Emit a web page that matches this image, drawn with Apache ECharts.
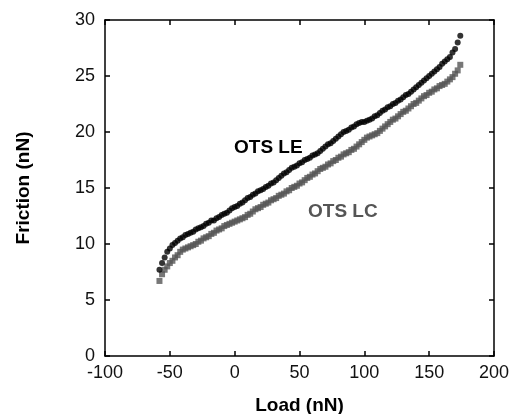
<!DOCTYPE html>
<html>
<head>
<meta charset="utf-8">
<script src="https://cdn.jsdelivr.net/npm/echarts@6/dist/echarts.min.js"></script>
<style>
  html, body { margin: 0; padding: 0; background: #fff; }
  #chart { width: 510px; height: 414px; }
</style>
</head>
<body>
<div id="chart"></div>
<script>
// load values (nN), shared by both curves
var load = [-58,-56,-54,-52,-50,-48,-46,-44,-42,-40,-38,-36,-34,-32,-30,-28,-26,-24,-22,-20,
  -18,-16,-14,-12,-10,-8,-6,-4,-2,0,2,4,6,8,10,12,14,16,18,20,22,24,26,28,30,32,34,36,38,40,
  42,44,46,48,50,52,54,56,58,60,62,64,66,68,70,72,74,76,78,80,82,84,86,88,90,92,94,96,98,100,
  102,104,106,108,110,112,114,116,118,120,122,124,126,128,130,132,134,136,138,140,142,144,146,148,150,
  152,154,156,158,160,162,164,166,168,170,172,174];

// OTS LE friction (nN)
var frictionLE = [7.7,8.3,8.8,9.3,9.6,9.9,10.1,10.3,10.5,10.6,10.8,10.9,11.0,11.1,11.3,11.4,11.5,11.6,11.8,11.9,
  12.1,12.1,12.3,12.4,12.6,12.7,12.8,13.0,13.2,13.3,13.4,13.6,13.7,13.9,14.1,14.2,14.4,14.5,14.7,14.8,
  14.9,15.1,15.2,15.4,15.5,15.7,15.9,16.1,16.3,16.4,16.6,16.8,16.9,17.0,17.2,17.3,17.5,17.6,17.7,17.9,
  18.0,18.1,18.3,18.5,18.7,18.9,19.0,19.2,19.4,19.6,19.8,20.0,20.1,20.2,20.4,20.5,20.7,20.8,20.9,20.9,
  21.0,21.1,21.2,21.4,21.5,21.7,21.9,22.0,22.2,22.3,22.5,22.6,22.8,22.9,23.1,23.3,23.4,23.6,23.8,24.0,
  24.2,24.4,24.6,24.8,25.0,25.2,25.4,25.6,25.8,26.1,26.3,26.5,26.7,27.1,27.4,28.0,28.6];

// OTS LC friction (nN)
var frictionLC = [6.7,7.3,7.7,8.0,8.3,8.5,8.8,9.0,9.3,9.5,9.6,9.7,9.8,9.9,10.0,10.2,10.3,10.5,10.6,10.7,
  10.9,11.0,11.2,11.3,11.4,11.6,11.7,11.8,11.9,12.0,12.1,12.2,12.3,12.4,12.6,12.7,12.9,13.1,13.2,13.3,
  13.5,13.6,13.7,13.9,14.0,14.1,14.3,14.4,14.5,14.7,14.8,15.0,15.1,15.2,15.4,15.5,15.7,15.9,16.0,16.2,
  16.3,16.5,16.7,16.8,16.9,17.1,17.2,17.4,17.5,17.7,17.8,18.0,18.1,18.2,18.4,18.5,18.7,18.9,19.1,19.3,
  19.5,19.6,19.7,19.8,19.9,20.1,20.3,20.5,20.7,20.9,21.1,21.2,21.4,21.6,21.8,21.9,22.1,22.3,22.5,22.6,
  22.8,23.0,23.2,23.3,23.5,23.6,23.8,23.9,24.1,24.2,24.3,24.5,24.7,24.9,25.2,25.5,26.0];

function pairs(xs, ys) {
  var res = [];
  for (var i = 0; i < xs.length; i++) res.push([xs[i], ys[i]]);
  return res;
}

var font = '"Liberation Sans", Arial, sans-serif';
var chart = echarts.init(document.getElementById('chart'));

var axisCommon = {
  axisLine: { show: true, onZero: false, lineStyle: { color: '#000', width: 1.5 } },
  axisTick: { show: true, inside: true, length: 5, lineStyle: { color: '#000', width: 1.5 } },
  splitLine: { show: false }
};

var option = {
  backgroundColor: '#fff',
  animation: false,
  grid: { left: 105, right: 16, top: 20, bottom: 58, outerBoundsMode: 'none', containLabel: false },
  xAxis: [
    Object.assign({
      type: 'value', min: -100, max: 200, interval: 50, position: 'bottom',
      name: 'Load (nN)', nameLocation: 'middle', nameGap: 40,
      nameTextStyle: { fontFamily: font, fontSize: 19, fontWeight: 'bold', color: '#000' },
      axisLabel: { fontFamily: font, fontSize: 18, color: '#111', margin: 8 }
    }, axisCommon),
    Object.assign({
      type: 'value', min: -100, max: 200, interval: 50, position: 'top',
      axisLabel: { show: false }
    }, axisCommon)
  ],
  yAxis: [
    Object.assign({
      type: 'value', min: 0, max: 30, interval: 5, position: 'left',
      name: 'Friction (nN)', nameLocation: 'middle', nameGap: 72,
      nameTextStyle: { fontFamily: font, fontSize: 19, fontWeight: 'bold', color: '#000' },
      axisLabel: { fontFamily: font, fontSize: 18, color: '#111', margin: 10 }
    }, axisCommon),
    Object.assign({
      type: 'value', min: 0, max: 30, interval: 5, position: 'right',
      axisLabel: { show: false }
    }, axisCommon)
  ],
  graphic: [
    { type: 'text', left: 234, top: 138,
      style: { text: 'OTS LE', fontFamily: font, fontSize: 19, fontWeight: 'bold', fill: '#000' } },
    { type: 'text', left: 308, top: 202,
      style: { text: 'OTS LC', fontFamily: font, fontSize: 19, fontWeight: 'bold', fill: '#555' } }
  ],
  series: [
    {
      name: 'OTS LC', type: 'scatter', symbol: 'rect', symbolSize: 6,
      itemStyle: { color: '#555' },
      data: pairs(load, frictionLC)
    },
    {
      name: 'OTS LE', type: 'scatter', symbol: 'circle', symbolSize: 6,
      itemStyle: { color: '#000' },
      data: pairs(load, frictionLE)
    }
  ]
};

chart.setOption(option);
</script>
</body>
</html>
